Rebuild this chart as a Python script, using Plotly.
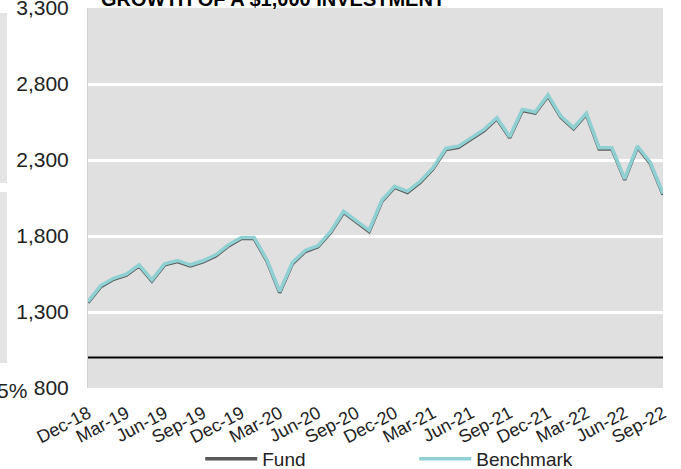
import plotly.graph_objects as go

months = ["Dec-18","Jan-19","Feb-19","Mar-19","Apr-19","May-19","Jun-19","Jul-19","Aug-19","Sep-19","Oct-19","Nov-19",
          "Dec-19","Jan-20","Feb-20","Mar-20","Apr-20","May-20","Jun-20","Jul-20","Aug-20","Sep-20","Oct-20","Nov-20",
          "Dec-20","Jan-21","Feb-21","Mar-21","Apr-21","May-21","Jun-21","Jul-21","Aug-21","Sep-21","Oct-21","Nov-21",
          "Dec-21","Jan-22","Feb-22","Mar-22","Apr-22","May-22","Jun-22","Jul-22","Aug-22","Sep-22"]

benchmark = [1368, 1474, 1522, 1549, 1610, 1511, 1617, 1639, 1610, 1637, 1676, 1742,
             1790, 1790, 1643, 1434, 1625, 1705, 1736, 1830, 1962, 1896, 1837, 2035,
             2127, 2094, 2160, 2248, 2376, 2391, 2446, 2501, 2578, 2453, 2633, 2616,
             2728, 2589, 2512, 2607, 2380, 2380, 2176, 2391, 2285, 2079]

fund = [1362, 1467, 1515, 1542, 1603, 1504, 1610, 1632, 1603, 1630, 1669, 1735,
        1783, 1783, 1636, 1427, 1618, 1698, 1729, 1823, 1955, 1889, 1830, 2028,
        2120, 2087, 2153, 2241, 2369, 2384, 2439, 2494, 2571, 2446, 2626, 2609,
        2721, 2582, 2505, 2600, 2373, 2373, 2169, 2384, 2278, 2072]

tick_labels = ["Dec-18","Mar-19","Jun-19","Sep-19","Dec-19","Mar-20","Jun-20","Sep-20",
               "Dec-20","Mar-21","Jun-21","Sep-21","Dec-21","Mar-22","Jun-22","Sep-22"]

y_ticks = [800, 1300, 1800, 2300, 2800, 3300]
baseline = 1000
title_text = "GROWTH OF A $1,000 INVESTMENT"

FONT = "Liberation Sans, Arial, sans-serif"

fig = go.Figure()
fig.add_trace(go.Scatter(x=months, y=fund, mode="lines", name="Fund",
                         line=dict(color="#595959", width=3.5)))
fig.add_trace(go.Scatter(x=months, y=benchmark, mode="lines", name="Benchmark",
                         line=dict(color="#8fd0d2", width=3.5)))

fig.add_shape(type="line", xref="paper", x0=0, x1=1, yref="y", y0=baseline, y1=baseline,
              line=dict(color="#000000", width=2))

TOP, BOT = 8, 388
H = float(BOT - TOP)
W = 575.0
def py(p):
    return (BOT - p) / H
def px(p):
    return (p - 88) / W

# clipped page fragments on the left edge
for (a, b) in [(13, 183), (192, 363)]:
    fig.add_shape(type="rect", xref="paper", yref="paper",
                  x0=px(0), x1=px(7), y0=py(b), y1=py(a),
                  fillcolor="#e3e3e3", line=dict(width=0), layer="below")

fig.add_annotation(text="5%", xref="paper", yref="paper", x=px(29), y=py(390),
                   xanchor="right", yanchor="middle", showarrow=False,
                   font=dict(family=FONT, size=21, color="#222222"))

fig.add_annotation(text="<b>" + title_text + "</b>", xref="paper", yref="paper",
                   x=px(272.5), y=py(12), xanchor="center", yanchor="bottom",
                   showarrow=False, font=dict(family=FONT, size=20, color="#000000"))

fig.update_layout(
    width=681, height=469,
    margin=dict(l=88, r=18, t=TOP, b=469 - BOT, autoexpand=False),
    paper_bgcolor="white", plot_bgcolor="#e0e0e0",
    font=dict(family=FONT, color="#222222"),
    showlegend=True,
    legend=dict(orientation="h", xref="container", yref="paper",
                x=0.294, y=py(459), xanchor="left", yanchor="middle",
                itemwidth=52, entrywidth=147,
                font=dict(family=FONT, size=19, color="#222222"),
                bgcolor="rgba(0,0,0,0)"),
)

fig.update_xaxes(type="category", range=[0, len(months)-1], tickvals=tick_labels,
                 ticktext=tick_labels, tickangle=-28, showgrid=False,
                 tickfont=dict(family=FONT, size=18, color="#222222"),
                 ticks="outside", ticklen=7, tickcolor="rgba(0,0,0,0)",
                 showline=False, zeroline=False, automargin=False)
fig.update_yaxes(range=[800, 3300], tickvals=y_ticks, tickformat=",",
                 showgrid=True, gridcolor="white", gridwidth=2.5,
                 tickfont=dict(family=FONT, size=21, color="#222222"),
                 ticks="outside", ticklen=14, tickcolor="rgba(0,0,0,0)",
                 ticklabeloverflow="allow",
                 showline=True, linecolor="#d0d0d0", linewidth=1, zeroline=False,
                 automargin=False)

fig.write_html("out.html", config={"displayModeBar": False},
               post_script="document.body.style.margin='0px';")
